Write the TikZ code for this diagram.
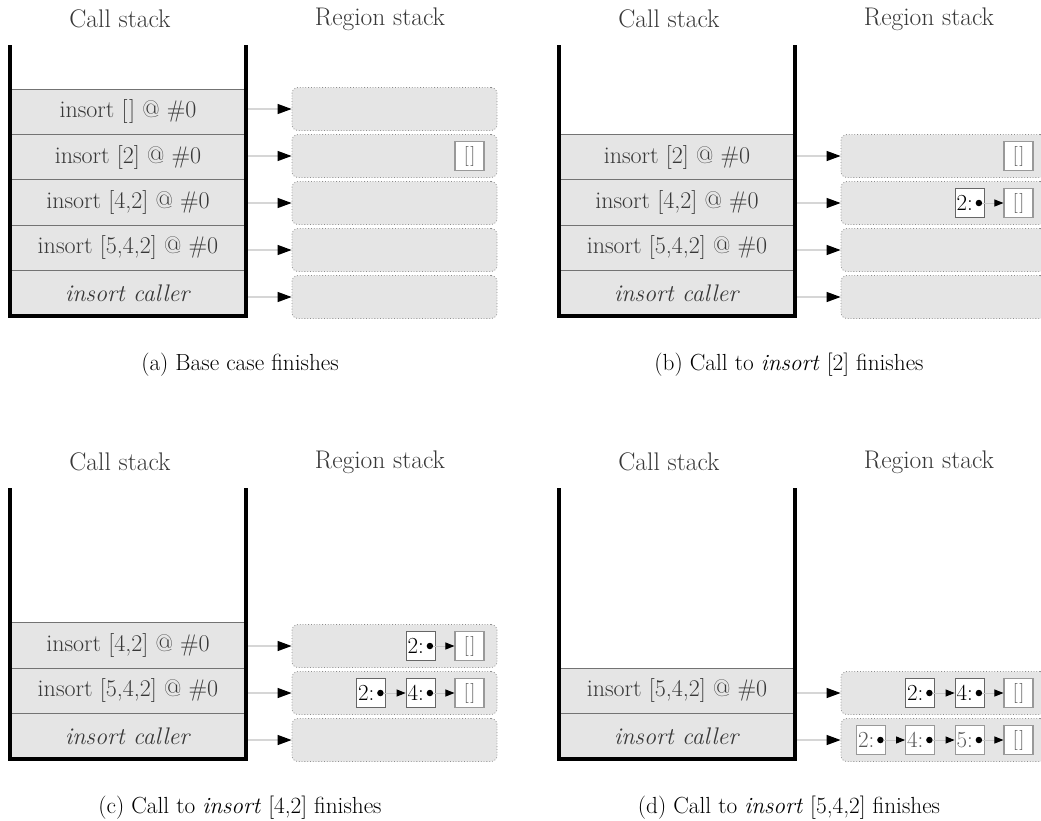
\documentclass[tikz,border=0pt]{standalone}
\usetikzlibrary{arrows.meta}
\tikzset{
  x=1pt, y=-1pt,
  wall/.style={line width=3.5pt, black, line join=miter},
  frame/.style={draw=black!55, line width=0.9pt, fill=black!10, minimum width=235pt,
    minimum height=45.4pt, inner sep=0pt, font=\fontsize{24}{28}\selectfont, text=black!78},
  region/.style={draw=black!45, dotted, line width=0.8pt, fill=black!10, rounded corners=6pt,
    minimum width=205pt, minimum height=43pt, inner sep=0pt},
  ptr/.style={draw=black!16, line width=1.2pt, -{Triangle[length=14pt,width=10pt,color=black]}},
  cell/.style={draw=black!60, fill=white, line width=0.8pt, minimum size=29pt, inner sep=0pt,
    font=\fontsize{23}{27}\selectfont, text=black},
  faded/.style={draw=black!40, text=black!65},
  nil/.style={cell, faded, line width=1.1pt, font=\fontsize{20}{24}\selectfont},
  link/.style={draw=black!22, line width=1pt, -{Triangle[length=9pt,width=7pt,color=black]}},
  dot/.style={circle, fill=black, inner sep=0pt, minimum size=6.5pt},
  head/.style={font=\fontsize{25.5}{30}\selectfont, text=black!78},
  caption/.style={font=\fontsize{23.3}{28}\selectfont, text=black},
}
\newcommand\emptylist{[\kern1.5pt]}
% one call-stack / region-stack pair: #1 prefix, #2 caption, #3 frames k/label (k=0 at bottom)
\newcommand\stackpanel[3]{%
  \node[head] (#1-hc) at (120,19) {Call stack};
  \node[head] (#1-hr) at (380,19) {Region stack};
  \foreach \k/\lab in {#3} {
    \node[frame] (#1-f\k) at (128, 293.3-45.4*\k) {\lab};
    \node[region] (#1-r\k) at (394.5, 297-47*\k) {};
    \draw[ptr] (#1-f\k.east |- #1-r\k.center) -- (#1-r\k.west);
  }
  \coordinate (#1-wl) at (10,45);
  \coordinate (#1-bl) at (10,316);
  \coordinate (#1-br) at (246,316);
  \coordinate (#1-wr) at (246,45);
  \draw[wall] (#1-wl) -- (#1-bl) -- (#1-br) -- (#1-wr);
  \node[caption] (#1-cap) at (240,365) {#2};
}
% a list cell "v:" with its pointer dot; #1 name, #2 region, #3 x offset, #4 value, #5 extra style
\newcommand\conscell[5]{%
  \node[cell, #5] (#1) at ([xshift=#3pt]#2.center) {\makebox[26pt][l]{#4:}};
  \node[dot] (#1-p) at ([xshift=-5.5pt]#1.east) {};
}
\newcommand\nilcell[3]{%
  \node[nil] (#1) at ([xshift=#3pt]#2.center) {\emptylist};
}
\begin{document}
\begin{tikzpicture}
\useasboundingbox (0,0) rectangle (1041,820);
\clip (0,0) rectangle (1041,820);

% (a)
\begin{scope}
  \stackpanel{a}{(a) Base case finishes}{0/{\textit{insort caller}}, 1/{insort [5,4,2] @ \#0}, 2/{insort [4,2] @ \#0}, 3/{insort [2] @ \#0}, 4/{insort \emptylist{} @ \#0}}
  \nilcell{a-n3}{a-r3}{75}
\end{scope}

% (b)
\begin{scope}[shift={(549,0)}]
  \stackpanel{b}{(b) Call to \textit{insort} [2] finishes}{0/{\textit{insort caller}}, 1/{insort [5,4,2] @ \#0}, 2/{insort [4,2] @ \#0}, 3/{insort [2] @ \#0}}
  \nilcell{b-n3}{b-r3}{75}
  \nilcell{b-n2}{b-r2}{75}
  \conscell{b-c2a}{b-r2}{26}{2}{}
  \draw[link] (b-c2a-p) -- (b-n2.west);
\end{scope}

% (c)
\begin{scope}[shift={(0,443)}]
  \stackpanel{c}{(c) Call to \textit{insort} [4,2] finishes}{0/{\textit{insort caller}}, 1/{insort [5,4,2] @ \#0}, 2/{insort [4,2] @ \#0}}
  \nilcell{c-n2}{c-r2}{75}
  \conscell{c-c2a}{c-r2}{26}{2}{}
  \draw[link] (c-c2a-p) -- (c-n2.west);
  \nilcell{c-n1}{c-r1}{75}
  \conscell{c-c1b}{c-r1}{26}{4}{}
  \conscell{c-c1a}{c-r1}{-23.5}{2}{}
  \draw[link] (c-c1a-p) -- (c-c1b.west);
  \draw[link] (c-c1b-p) -- (c-n1.west);
\end{scope}

% (d)
\begin{scope}[shift={(549,443)}]
  \stackpanel{d}{(d) Call to \textit{insort} [5,4,2] finishes}{0/{\textit{insort caller}}, 1/{insort [5,4,2] @ \#0}}
  \nilcell{d-n1}{d-r1}{75}
  \conscell{d-c1b}{d-r1}{26}{4}{}
  \conscell{d-c1a}{d-r1}{-23.5}{2}{}
  \draw[link] (d-c1a-p) -- (d-c1b.west);
  \draw[link] (d-c1b-p) -- (d-n1.west);
  \nilcell{d-n0}{d-r0}{75}
  \conscell{d-c0c}{d-r0}{26}{5}{faded}
  \conscell{d-c0b}{d-r0}{-23.5}{4}{faded}
  \conscell{d-c0a}{d-r0}{-72.5}{2}{faded}
  \draw[link] (d-c0a-p) -- (d-c0b.west);
  \draw[link] (d-c0b-p) -- (d-c0c.west);
  \draw[link] (d-c0c-p) -- (d-n0.west);
\end{scope}
\end{tikzpicture}
\end{document}
